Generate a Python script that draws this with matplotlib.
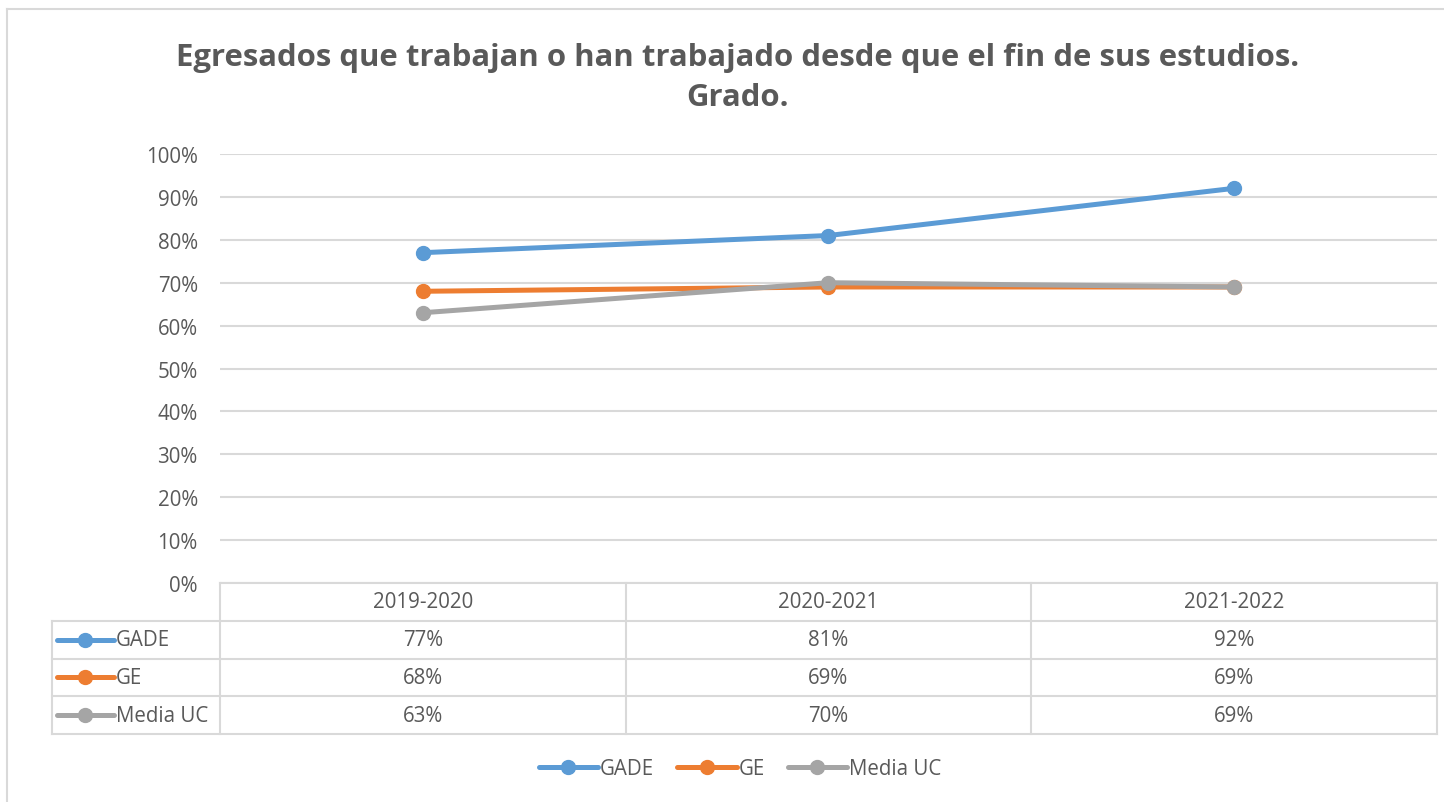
import matplotlib
matplotlib.use("Agg")
import matplotlib.pyplot as plt
from matplotlib.lines import Line2D

plt.rcParams['font.family'] = ['Open Sans', 'DejaVu Sans']

categorias = ['2019-2020', '2020-2021', '2021-2022']
series = ['GADE', 'GE', 'Media UC']
gade = [0.77, 0.81, 0.92]
ge = [0.68, 0.69, 0.69]
media_uc = [0.63, 0.70, 0.69]
valores = [gade, ge, media_uc]
colores = ['#5B9BD5', '#ED7D31', '#A5A5A5']
titulo = 'Egresados que trabajan o han trabajado desde que el fin de sus estudios.\nGrado.'

W, H = 1444, 803
fig = plt.figure(figsize=(W / 100, H / 100), dpi=100)
texto = '#595959'
rejilla = '#D9D9D9'
fs = 14.8

# marco exterior (solo izquierda y arriba quedan visibles)
fig.add_artist(Line2D([7 / W, 7 / W], [0, 1 - 10 / H], color=rejilla, lw=1.5))
fig.add_artist(Line2D([7 / W, 1], [1 - 10 / H, 1 - 10 / H], color=rejilla, lw=1.5))

fig.text(738 / W, 1 - 78 / H, titulo, ha='center', va='center', fontsize=22.4,
         fontweight='bold', color=texto, linespacing=1.4)

x0, x1 = 220 / W, 1437 / W
ax = fig.add_axes([x0, 1 - 584 / H, x1 - x0, (584 - 155) / H])
xs = range(len(categorias))
for nombre, v, c in zip(series, valores, colores):
    ax.plot(xs, v, color=c, lw=3.6, marker='o', ms=10, solid_capstyle='round',
            label=nombre, zorder=3)
ax.set_xlim(-0.5, 2.5)
ax.set_ylim(0, 1)
ax.set_yticks([i / 10 for i in range(11)])
ax.set_yticklabels([f'{i * 10}%' for i in range(11)])
ax.set_xticks([])
ax.grid(axis='y', color=rejilla, lw=1.5)
ax.set_axisbelow(True)
for s in ax.spines.values():
    s.set_visible(False)
ax.tick_params(axis='y', length=0, pad=16, labelsize=fs, labelcolor=texto)

# tabla de datos
tx = fig.add_axes([x0, 1 - 735 / H, x1 - x0, (735 - 584) / H])
tx.set_xlim(-0.5, 2.5)
tx.set_ylim(4, 0)
tx.axis('off')
izq = -0.5 - (220 - 52) / ((1437 - 220) / 3)
kw = dict(color=rejilla, lw=1.5, clip_on=False)
tx.plot([-0.5, 2.5], [0, 0], **kw)
for r in range(1, 5):
    tx.plot([izq, 2.5], [r, r], **kw)
for xv in [-0.5, 0.5, 1.5, 2.5]:
    tx.plot([xv, xv], [0, 4], **kw)
tx.plot([izq, izq], [1, 4], **kw)
for i, cat in enumerate(categorias):
    tx.text(i, 0.5, cat, ha='center', va='center', fontsize=fs, color=texto)
u = (1437 - 220) / 3
for r, (nombre, v, c) in enumerate(zip(series, valores, colores), start=1):
    for i, val in enumerate(v):
        tx.text(i, r + 0.5, f'{round(val * 100)}%', ha='center', va='center',
                fontsize=fs, color=texto)
    lx = [izq + 5 / u, izq + 62 / u]
    tx.plot(lx, [r + 0.5] * 2, color=c, lw=3.6, solid_capstyle='round', clip_on=False)
    tx.plot([izq + 33 / u], [r + 0.5], 'o', color=c, ms=10, clip_on=False)
    tx.text(izq + 64 / u, r + 0.5, nombre, ha='left', va='center', fontsize=fs,
            color=texto)

handles, labels = ax.get_legend_handles_labels()
leg = fig.legend(handles, labels, loc='center', bbox_to_anchor=(740 / W, 1 - 770 / H),
                 ncol=3, frameon=False, fontsize=fs, handlelength=2.9,
                 handletextpad=0.1, columnspacing=1.1)
for t in leg.get_texts():
    t.set_color(texto)

fig.savefig('out.png', dpi=100)
